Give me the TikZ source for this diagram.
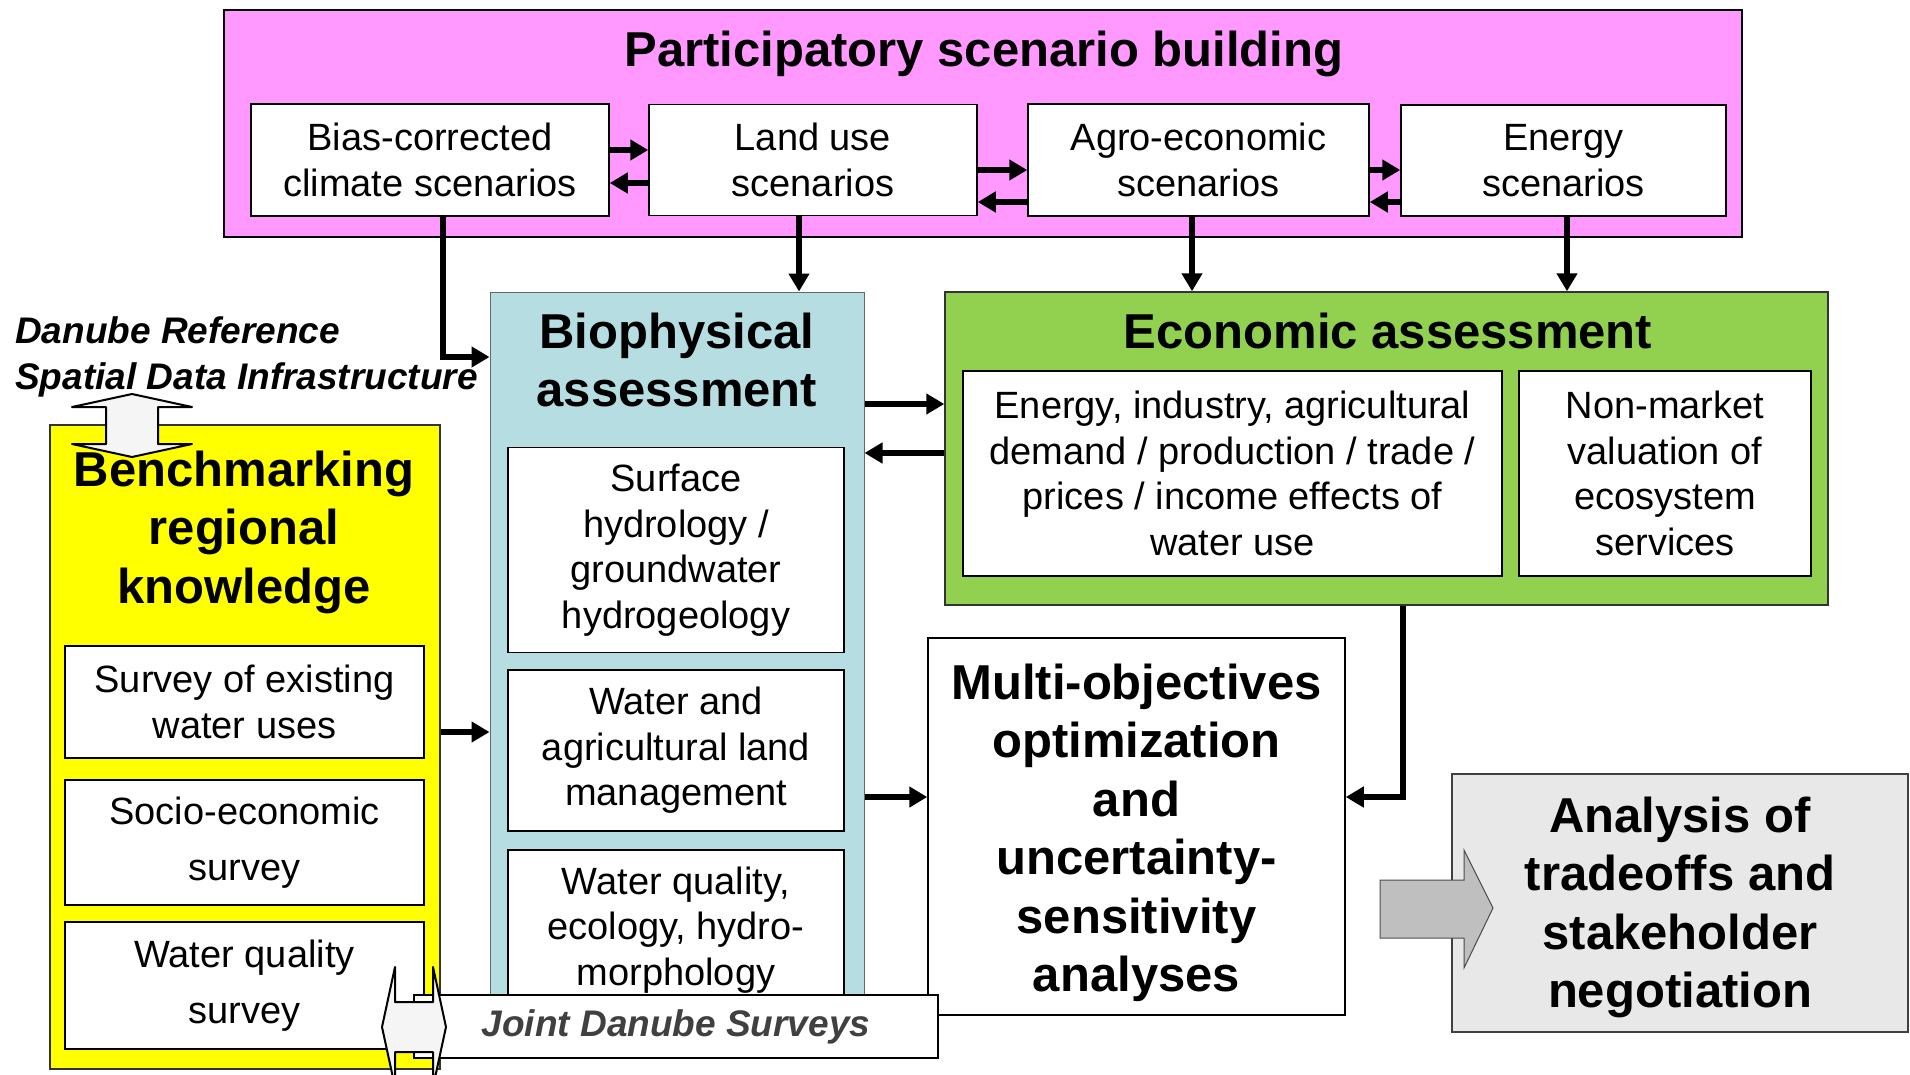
\documentclass[tikz,border=0pt]{standalone}
\usepackage{fontspec}
\setmainfont{Liberation Sans}
\usetikzlibrary{arrows.meta}
\definecolor{scenpink}{HTML}{FF99FF}
\definecolor{biofill}{HTML}{B6DDE1}
\definecolor{econgreen}{HTML}{92D050}
\definecolor{benchyellow}{HTML}{FFFF00}
\definecolor{tradegray}{HTML}{E8E8E8}
\definecolor{jdsgray}{HTML}{404040}
\begin{document}
\begin{tikzpicture}[x=1pt, y=-1pt,
    box/.style={draw, line width=1.5pt, fill=white, inner sep=0pt, align=center,
        font=\fontsize{38}{45.5}\selectfont},
    panel/.style={draw, line width=1.5pt, inner sep=0pt},
    title/.style={inner sep=0pt, align=center, font=\fontsize{49}{58.5}\selectfont\bfseries},
    flow/.style={line width=5.5pt, -{Triangle[length=18pt,width=20pt]}},
    twoway/.style={draw=black, line width=2pt, fill=black!4, line join=round}]
    \useasboundingbox (0,0) rectangle (1910,1074);
    \node[panel, fill=scenpink, line width=2.5pt, minimum width=1518pt, minimum height=227pt] (scen) at (983,123.5) {};
    \node[title] (scentitle) at (984,54) {Participatory scenario building};
    \node[box, minimum width=358pt, minimum height=112pt] (bias) at (430,160) {Bias-corrected\\climate scenarios};
    \node[box, minimum width=328pt, minimum height=111pt] (land) at (813,160) {Land use\\scenarios};
    \node[box, minimum width=341pt, minimum height=112pt] (agro) at (1198.5,160) {Agro-economic\\scenarios};
    \node[box, minimum width=325pt, minimum height=111pt] (energy) at (1563.5,160.5) {Energy\\scenarios};
    \node[panel, fill=benchyellow, draw=black!80, minimum width=390pt, minimum height=644pt] (bench) at (245,747) {};
    \draw[twoway] (132,394) -- (192,407) -- (158,407) -- (158,444) -- (192,444) -- (132,457)
        -- (72,444) -- (106,444) -- (106,407) -- (72,407) -- cycle;
    \node[title] (benchtitle) at (244,532) {Benchmarking\\regional\\knowledge};
    \node[box, minimum width=359pt, minimum height=112pt] (survey) at (244.5,702) {Survey of existing\\water uses};
    \node[box, minimum width=359pt, minimum height=125pt] (socio) at (244.5,842.5) {Socio-economic\\[10pt]survey};
    \node[box, minimum width=359pt, minimum height=127pt] (wqsurvey) at (244.5,985.5) {Water quality\\[10pt]survey};
    \node[panel, fill=biofill, draw=black!60, line width=1pt, minimum width=374pt, minimum height=748pt] (bio) at (677,666) {};
    \node[title] (biotitle) at (677,360) {Biophysical\\assessment};
    \node[box, minimum width=336pt, minimum height=205pt] (hydro) at (676,550) {Surface\\hydrology /\\groundwater\\hydrogeology};
    \node[box, minimum width=336pt, minimum height=161pt] (landmgmt) at (676,750.5) {Water and\\agricultural land\\management};
    \node[box, minimum width=336pt, minimum height=160pt] (ecology) at (676,930) {Water quality,\\ecology, hydro-\\morphology};
    \node[panel, fill=econgreen, draw=black!80, minimum width=883pt, minimum height=313pt] (econ) at (1386.5,448.5) {};
    \node[title] (econtitle) at (1388,331) {Economic assessment};
    \node[box, minimum width=539pt, minimum height=205pt] (demand) at (1232.5,473.5) {Energy, industry, agricultural\\demand / production / trade /\\prices / income effects of\\water use};
    \node[box, minimum width=292pt, minimum height=205pt] (nonmarket) at (1665,473.5) {Non-market\\valuation of\\ecosystem\\services};
    \node[box, title, minimum width=417pt, minimum height=377pt] (optim) at (1136.5,826.5) {\rule{0pt}{48pt}Multi-objectives\\optimization\\and\\uncertainty-\\sensitivity\\analyses};
    \node[box, title, fill=tradegray, draw=black!75, line width=2pt, minimum width=456pt, minimum height=258pt] (tradeoffs) at (1680,903) {\rule{0pt}{44pt}Analysis of\\tradeoffs and\\stakeholder\\negotiation};
    \node[anchor=west, align=left, inner sep=0pt, font=\fontsize{37}{46}\selectfont\bfseries\itshape] (drsdi) at (15,357) {Danube Reference\\Spatial Data Infrastructure};
    \draw[flow] (bias.east |- 0,150) -- (land.west |- 0,150);
    \draw[flow] (land.west |- 0,183) -- (bias.east |- 0,183);
    \draw[flow] (land.east |- 0,170) -- (agro.west |- 0,170);
    \draw[flow] (agro.west |- 0,202) -- (land.east |- 0,202);
    \draw[flow] (agro.east |- 0,170) -- (energy.west |- 0,170);
    \draw[flow] (energy.west |- 0,202) -- (agro.east |- 0,202);
    \coordinate (biasbend) at (443,357);
    \draw[flow] (bias.south -| biasbend) -- (biasbend) -- (biasbend -| bio.west);
    \draw[flow] (land.south -| 799,0) -- (bio.north -| 799,0);
    \draw[flow] (agro.south -| 1192,0) -- (econ.north -| 1192,0);
    \draw[flow] (energy.south -| 1567,0) -- (econ.north -| 1567,0);
    \draw[flow] (bio.east |- 0,404) -- (econ.west |- 0,404);
    \draw[flow] (econ.west |- 0,453) -- (bio.east |- 0,453);
    \draw[flow] (bench.east |- 0,732) -- (bio.west |- 0,732);
    \draw[flow] (bio.east |- 0,797) -- (optim.west |- 0,797);
    \coordinate (econdrop) at (1403,797);
    \draw[flow] (econ.south -| econdrop) -- (econdrop) -- (econdrop -| optim.east);
    \node[box, minimum width=524pt, minimum height=63pt, text=jdsgray, font=\fontsize{37}{44}\selectfont\bfseries\itshape] (jds) at (676,1026.5) {Joint Danube Surveys};
    \draw[twoway] (382,1027) -- (395,967) -- (395,1002) -- (433,1002) -- (433,967) -- (446,1027)
        -- (433,1087) -- (433,1052) -- (395,1052) -- (395,1087) -- cycle;
    \draw[draw=black!70, line width=1pt, fill=black!25] (1380,880) -- (1464,880) -- (1464,850) -- (1493,908)
        -- (1464,968) -- (1464,938) -- (1380,938) -- cycle;
\end{tikzpicture}
\end{document}
